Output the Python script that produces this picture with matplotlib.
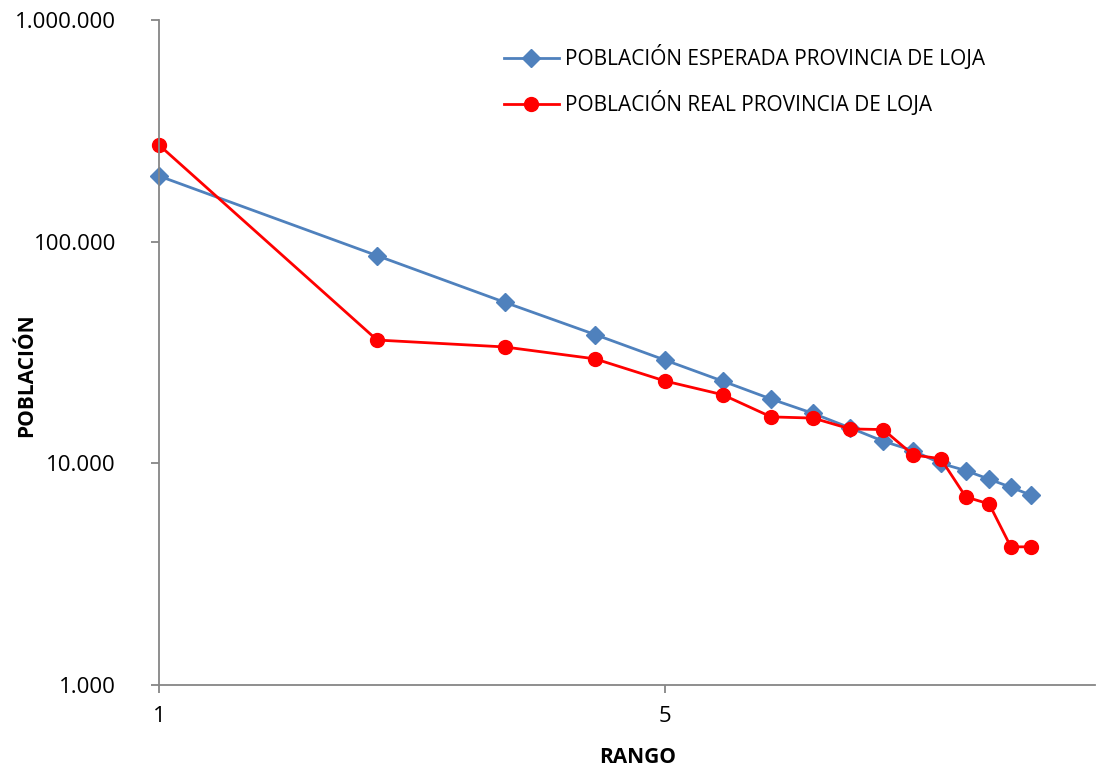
import matplotlib.pyplot as plt
from matplotlib.ticker import FuncFormatter, FixedLocator, NullLocator

rango = list(range(1, 17))
esperada = [197800, 86500, 53300, 38100, 29200, 23500, 19500, 16800,
            14450, 12580, 11400, 10000, 9270, 8480, 7800, 7180]
real = [273000, 36000, 33500, 29600, 23500, 20400, 16200, 16000,
        14300, 14200, 10900, 10500, 7050, 6560, 4200, 4200]

x_ticks = [1, 5]
y_ticks = [1000, 10000, 100000, 1000000]

plt.rcParams['font.family'] = ['Open Sans', 'DejaVu Sans']

fig = plt.figure(figsize=(10.96, 7.67), dpi=100)
ax = fig.add_axes([159 / 1096, 1 - 685 / 767, (1095 - 159) / 1096, (685 - 20) / 767])

ax.plot(rango, esperada, color='#4F81BD', lw=2, marker='D', ms=9,
        label='POBLACIÓN ESPERADA PROVINCIA DE LOJA')
ax.plot(rango, real, color='#FF0000', lw=2, marker='o', ms=10,
        label='POBLACIÓN REAL PROVINCIA DE LOJA')

ax.set_xscale('log')
ax.set_yscale('log')
ax.set_xlim(1, 19.6)
ax.set_ylim(1000, 1000000)

ax.xaxis.set_major_locator(FixedLocator(x_ticks))
ax.xaxis.set_minor_locator(NullLocator())
ax.yaxis.set_major_locator(FixedLocator(y_ticks))
ax.yaxis.set_minor_locator(NullLocator())
ax.xaxis.set_major_formatter(FuncFormatter(lambda v, p: f'{v:g}'))
ax.yaxis.set_major_formatter(FuncFormatter(lambda v, p: f'{int(v):,}'.replace(',', '.')))

for s in ['top', 'right']:
    ax.spines[s].set_visible(False)
for s in ['left', 'bottom']:
    ax.spines[s].set_color('#868686')
    ax.spines[s].set_linewidth(1.3)
    ax.spines[s].set_clip_on(False)
ax.tick_params(axis='both', direction='out', length=6, width=1.3, color='#868686',
               labelsize=16)
ax.tick_params(axis='x', pad=9)
ax.tick_params(axis='y', pad=25)

ax.set_xlabel('RANGO', fontsize=15, fontweight='bold')
ax.set_ylabel('POBLACIÓN', fontsize=15, fontweight='bold')
ax.xaxis.set_label_coords((638 - 159) / 936, -(747 - 685) / 665)
ax.yaxis.set_label_coords((37 - 159) / 936, (685 - 375) / 665)

for line in ax.get_lines():
    line.set_clip_on(False)

ax.legend(loc='upper left', bbox_to_anchor=(0.349, 0.99), frameon=False, fontsize=15,
          handlelength=2.6, labelspacing=1.0, handletextpad=0.3)

fig.savefig('out.png', dpi=100)
